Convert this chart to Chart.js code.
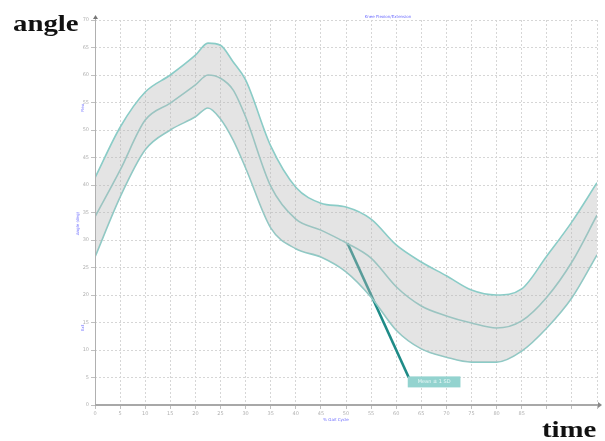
<!DOCTYPE html>
<html><head><meta charset="utf-8">
<script src="https://cdn.jsdelivr.net/npm/chart.js@4/dist/chart.umd.min.js"></script>
<style>
html,body{margin:0;padding:0;background:#fff;}
#wrap{position:relative;width:605px;height:441px;overflow:hidden;}
canvas{position:absolute;left:0;top:0;}
.big{position:absolute;font-family:"Liberation Serif","Times New Roman",serif;font-weight:bold;font-size:24px;color:#111;transform-origin:0 0;transform:scaleX(1.2);line-height:1;white-space:nowrap;}
</style></head>
<body><div id="wrap"><canvas id="c" width="605" height="441"></canvas>
<div class="big" style="left:13px;top:11px">angle</div>
<div class="big" style="left:542px;top:417px">time</div>
</div>
<script>
// ---- data ----
const xValues   = [0,5,10,15,20,22.5,25,27.5,30,35,40,45,50,55,60,65,70,75,80,85,90,95,100];
const upperBand = [41.3,50.5,56.9,60.0,63.6,65.8,65.4,62.4,59.1,47.1,39.6,36.7,36.0,33.8,29.1,26.0,23.5,20.9,20.0,21.1,27.1,33.3,40.4];
const meanCurve = [34.2,42.7,51.8,54.9,58.2,60.0,59.4,57.3,52.4,39.8,33.8,31.8,29.5,26.7,21.5,18.0,16.2,14.9,14.0,15.3,19.6,26.0,34.5];
const lowerBand = [26.9,37.8,46.4,50.0,52.4,54.0,52.0,48.2,43.1,32.2,28.4,26.9,24.2,19.6,13.6,10.2,8.7,7.8,7.8,9.8,14.0,19.5,27.3];
const xTickLabels = ['0','5','10','15','20','25','30','35','40','45','50','55','60','65','70','75','80','85','','',''];
const yTickLabels = ['0','5','10','15','20','25','30','35','40','45','50','55','60','65','70'];
const calloutLine = [{x:50.3,y:29.4},{x:62.5,y:5.0}];
const calloutBox  = {x0:62.3,x1:72.8,y0:5.2,y1:3.2,text:'Mean ± 1 SD'};
const titleText = 'Knee Flexion/Extension';
const xTitle = '% Gait Cycle';
const yTitle = 'Angle (deg)';

const pts = arr => arr.map((v,i)=>({x:xValues[i],y:v}));
const teal = '#8accc7';

const deco = {
  id:'deco',
  afterDraw(chart){
    const {ctx, chartArea:a, scales:{x,y}} = chart;
    ctx.save();
    ctx.strokeStyle='#b0b0b0'; ctx.lineWidth=1;
    ctx.beginPath(); ctx.moveTo(a.left+0.5,a.top-3); ctx.lineTo(a.left+0.5,a.bottom); ctx.stroke();
    ctx.fillStyle='#777';
    ctx.beginPath(); ctx.moveTo(a.left-2,a.top-1); ctx.lineTo(a.left+3,a.top-1); ctx.lineTo(a.left+0.5,a.top-5); ctx.closePath(); ctx.fill();
    ctx.strokeStyle='#a8a8a8'; ctx.lineWidth=2;
    ctx.beginPath(); ctx.moveTo(a.left,a.bottom); ctx.lineTo(a.right+2,a.bottom); ctx.stroke();
    ctx.fillStyle='#888';
    ctx.beginPath(); ctx.moveTo(a.right+1,a.bottom-3); ctx.lineTo(a.right+5,a.bottom); ctx.lineTo(a.right+1,a.bottom+3); ctx.closePath(); ctx.fill();
    const bx0=x.getPixelForValue(calloutBox.x0), bx1=x.getPixelForValue(calloutBox.x1);
    const by0=y.getPixelForValue(calloutBox.y0), by1=y.getPixelForValue(calloutBox.y1);
    ctx.fillStyle='#93d3cf';
    ctx.fillRect(bx0,by0,bx1-bx0,by1-by0);
    ctx.fillStyle='#eaf8f7'; ctx.font='5px "DejaVu Sans"'; ctx.textAlign='center'; ctx.textBaseline='middle';
    ctx.fillText(calloutBox.text,(bx0+bx1)/2,(by0+by1)/2);
    ctx.fillStyle='#6b6bff'; ctx.font='4px "DejaVu Sans"';
    ctx.fillText(titleText,(a.left+a.right)/2+42,a.top-3);
    ctx.fillText(xTitle,x.getPixelForValue(48),a.bottom+15);
    ctx.save(); ctx.translate(a.left-17,y.getPixelForValue(33)); ctx.rotate(-Math.PI/2); ctx.fillText(yTitle,0,0); ctx.restore();
    ctx.save(); ctx.translate(a.left-12,y.getPixelForValue(54)); ctx.rotate(-Math.PI/2); ctx.fillText('Flex',0,0); ctx.restore();
    ctx.save(); ctx.translate(a.left-12,y.getPixelForValue(14)); ctx.rotate(-Math.PI/2); ctx.fillText('Ext',0,0); ctx.restore();
    ctx.restore();
  }
};

const curve = {borderColor:teal,borderWidth:1.6,pointRadius:0,cubicInterpolationMode:'monotone'};
new Chart(document.getElementById('c'),{
  type:'line',
  data:{datasets:[
    Object.assign({label:'upper',data:pts(upperBand),fill:'+2',backgroundColor:'rgba(185,185,185,0.38)'},curve),
    Object.assign({label:'mean',data:pts(meanCurve),fill:false},curve),
    Object.assign({label:'lower',data:pts(lowerBand),fill:false},curve),
    {label:'callout',data:calloutLine,borderColor:'#1f8b87',borderWidth:2.6,pointRadius:0,fill:false,tension:0}
  ]},
  options:{
    responsive:false,animation:false,devicePixelRatio:1,
    layout:{padding:{top:20,right:8,left:0,bottom:0}},
    plugins:{legend:{display:false},tooltip:{enabled:false},title:{display:false}},
    scales:{
      x:{type:'linear',min:0,max:100,
        ticks:{stepSize:5,autoSkip:false,maxRotation:0,font:{size:5,family:'DejaVu Sans'},color:'#b0b0b0',padding:2,
          callback:(v,i)=>xTickLabels[i]},
        grid:{color:'#d6d6d6',lineWidth:1,tickLength:4,tickColor:'#c0c0c0'},
        border:{display:false,dash:[2,2]},
        afterFit(s){s.height=36;}
      },
      y:{min:0,max:70,
        ticks:{stepSize:5,autoSkip:false,font:{size:5,family:'DejaVu Sans'},color:'#b0b0b0',padding:2,
          callback:(v,i)=>yTickLabels[i]},
        grid:{color:'#d6d6d6',lineWidth:1,tickLength:4,tickColor:'#c0c0c0'},
        border:{display:false,dash:[2,2]},
        afterFit(s){s.width=95;}
      }
    }
  },
  plugins:[deco]
});
</script>
</body></html>
